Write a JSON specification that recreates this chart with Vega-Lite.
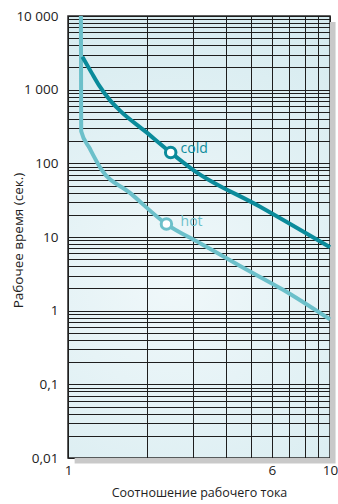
{
  "$schema": "https://vega.github.io/schema/vega-lite/v6.json",
  "width": 262,
  "height": 442,
  "autosize": {"type": "none"},
  "padding": {"left": 68, "top": 16, "right": 8, "bottom": 46},
  "background": "white",
  "config": {
    "font": "Open Sans",
    "view": {
      "stroke": "#2a2a2a",
      "strokeWidth": 1.5,
      "fill": {
        "gradient": "radial",
        "x1": 0.45, "y1": 0.6, "r1": 0,
        "x2": 0.45, "y2": 0.6, "r2": 0.75,
        "stops": [
          {"offset": 0, "color": "#f0f8fa"},
          {"offset": 1, "color": "#d2e9ee"}
        ]
      }
    },
    "axis": {
      "ticks": false,
      "domain": false,
      "grid": true,
      "gridColor": "#1e1e1e",
      "gridWidth": 1,
      "gridOpacity": 1,
      "labelColor": "#222222",
      "labelFontSize": 13.5,
      "labelOverlap": false,
      "labelFlush": false,
      "titleColor": "#222222",
      "titleFontWeight": "normal",
      "titleFontSize": 12.5
    }
  },
  "datasets": {
    "shadow": [
      {"x": 10, "x2": 10.5, "y": 0.0084, "y2": 8300},
      {"x": 1.06, "x2": 10, "y": 0.0084, "y2": 0.01}
    ],
    "curves": [
      {"state": "hot", "i": 0, "ratio": 1.12, "time": 10000},
      {"state": "hot", "i": 1, "ratio": 1.123, "time": 272},
      {"state": "hot", "i": 2, "ratio": 1.21, "time": 160},
      {"state": "hot", "i": 3, "ratio": 1.34, "time": 83},
      {"state": "hot", "i": 4, "ratio": 1.72, "time": 40},
      {"state": "hot", "i": 5, "ratio": 2.375, "time": 15},
      {"state": "hot", "i": 6, "ratio": 3.18, "time": 8.3},
      {"state": "hot", "i": 7, "ratio": 4.52, "time": 4.07},
      {"state": "hot", "i": 8, "ratio": 6.62, "time": 1.92},
      {"state": "hot", "i": 9, "ratio": 10, "time": 0.76},
      {"state": "cold", "i": 0, "ratio": 1.135, "time": 2800},
      {"state": "cold", "i": 1, "ratio": 1.231, "time": 1690},
      {"state": "cold", "i": 2, "ratio": 1.31, "time": 1162},
      {"state": "cold", "i": 3, "ratio": 1.443, "time": 727},
      {"state": "cold", "i": 4, "ratio": 1.575, "time": 524},
      {"state": "cold", "i": 5, "ratio": 1.962, "time": 276},
      {"state": "cold", "i": 6, "ratio": 2.466, "time": 140},
      {"state": "cold", "i": 7, "ratio": 3.0, "time": 81.6},
      {"state": "cold", "i": 8, "ratio": 5.39, "time": 25.9},
      {"state": "cold", "i": 9, "ratio": 10, "time": 7.25}
    ],
    "markers": [
      {"state": "cold", "ratio": 2.466, "time": 140},
      {"state": "hot", "ratio": 2.375, "time": 15}
    ],
    "labels": [
      {"state": "cold", "ratio": 2.69, "time": 157, "text": "cold"},
      {"state": "hot", "ratio": 2.69, "time": 15.8, "text": "hot"}
    ]
  },
  "layer": [
    {
      "data": {"name": "shadow"},
      "mark": {"type": "rect", "color": "#c9c9c9"},
      "encoding": {
        "x": {"field": "x", "type": "quantitative"},
        "x2": {"field": "x2"},
        "y": {"field": "y", "type": "quantitative"},
        "y2": {"field": "y2"}
      }
    },
    {
      "data": {"name": "curves"},
      "mark": {"type": "line", "strokeWidth": 4, "strokeCap": "butt", "strokeJoin": "round", "interpolate": "monotone"},
      "encoding": {
        "x": {
          "field": "ratio", "type": "quantitative",
          "scale": {"type": "log", "domain": [1, 10]},
          "axis": {
            "title": "Соотношение рабочего тока",
            "values": [1, 2, 3, 4, 5, 6, 7, 8, 9, 10],
            "labelExpr": "datum.value == 1 || datum.value == 6 || datum.value == 10 ? datum.value + '' : ''",
            "labelPadding": 5,
            "titlePadding": 10
          }
        },
        "y": {
          "field": "time", "type": "quantitative",
          "scale": {"type": "log", "domain": [0.01, 10000]},
          "axis": {
            "title": "Рабочее время (сек.)",
            "values": [0.01, 0.02, 0.03, 0.04, 0.05, 0.06, 0.07, 0.08, 0.09, 0.1, 0.2, 0.3, 0.4, 0.5, 0.6, 0.7, 0.8, 0.9, 1, 2, 3, 4, 5, 6, 7, 8, 9, 10, 20, 30, 40, 50, 60, 70, 80, 90, 100, 200, 300, 400, 500, 600, 700, 800, 900, 1000, 2000, 3000, 4000, 5000, 6000, 7000, 8000, 9000, 10000],
            "labelExpr": "datum.value == 10000 ? '10 000' : datum.value == 1000 ? '1 000' : datum.value == 100 ? '100' : datum.value == 10 ? '10' : datum.value == 1 ? '1' : datum.value == 0.1 ? '0,1' : datum.value == 0.01 ? '0,01' : ''",
            "labelPadding": 10,
            "titleFontSize": 13.5,
            "titleX": -46,
            "titleY": 224,
            "titleAlign": "center",
            "titleBaseline": "alphabetic"
          }
        },
        "color": {
          "field": "state", "type": "nominal",
          "scale": {"domain": ["cold", "hot"], "range": ["#0b8b9b", "#6cc0ca"]},
          "legend": null
        },
        "order": {"field": "i", "type": "quantitative"}
      }
    },
    {
      "data": {"name": "markers"},
      "mark": {"type": "point", "shape": "circle", "filled": false, "fill": "white", "fillOpacity": 1, "strokeWidth": 3, "size": 110, "opacity": 1},
      "encoding": {
        "x": {"field": "ratio", "type": "quantitative"},
        "y": {"field": "time", "type": "quantitative"},
        "stroke": {
          "field": "state", "type": "nominal",
          "scale": {"domain": ["cold", "hot"], "range": ["#0b8b9b", "#6cc0ca"]},
          "legend": null
        }
      }
    },
    {
      "data": {"name": "labels"},
      "mark": {"type": "text", "align": "left", "baseline": "middle", "fontSize": 14},
      "encoding": {
        "x": {"field": "ratio", "type": "quantitative"},
        "y": {"field": "time", "type": "quantitative"},
        "text": {"field": "text"},
        "color": {
          "field": "state", "type": "nominal",
          "scale": {"domain": ["cold", "hot"], "range": ["#0b8b9b", "#6cc0ca"]},
          "legend": null
        }
      }
    }
  ]
}
